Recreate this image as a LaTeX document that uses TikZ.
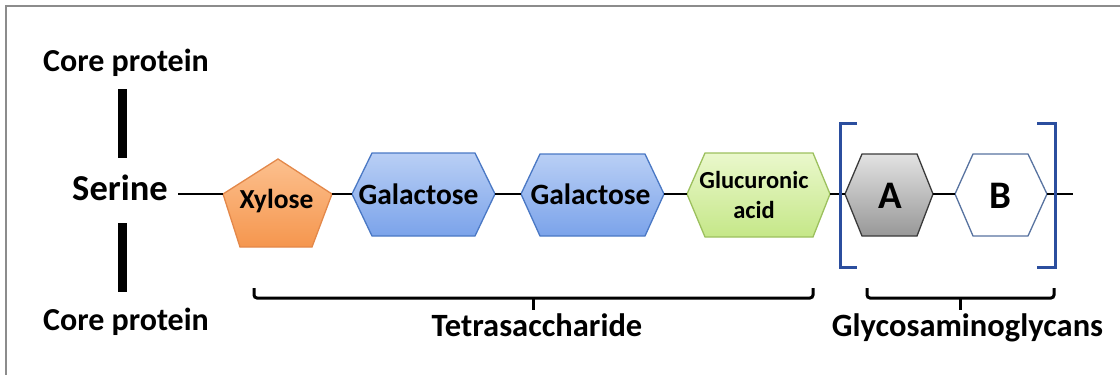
\documentclass[tikz,border=0pt]{standalone}
\usepackage{fontspec}
\setmainfont{Carlito}
\usepackage{tikz}
\usetikzlibrary{calc}

\definecolor{framegray}{HTML}{8C8C8C}
\definecolor{xylTop}{HTML}{FCC08E}
\definecolor{xylBot}{HTML}{F5964E}
\definecolor{xylEdge}{HTML}{E3884A}
\definecolor{galTop}{HTML}{B9CFF5}
\definecolor{galBot}{HTML}{7BA3EA}
\definecolor{galEdge}{HTML}{4A78C4}
\definecolor{glcTop}{HTML}{EAF8CC}
\definecolor{glcBot}{HTML}{C5E788}
\definecolor{glcEdge}{HTML}{9CC05E}
\definecolor{aTop}{HTML}{E2E2E2}
\definecolor{aBot}{HTML}{989898}
\definecolor{aEdge}{HTML}{3A3A3A}
\definecolor{bEdge}{HTML}{5873A0}
\definecolor{bracketblue}{HTML}{2B4E9E}

\tikzset{
  sugar/.style={line width=1.3pt, line join=miter},
  lbl/.style={inner sep=0pt, anchor=base},
  link/.style={black, line width=2.8pt},
  corebar/.style={black, line width=9pt},
  underbrace/.style={black, line width=3pt, rounded corners=3pt},
  gagbracket/.style={draw=bracketblue, line width=3pt},
}

\begin{document}
\begin{tikzpicture}[x=1pt,y=-1pt]
        \useasboundingbox (0,0) rectangle (1120,375);
        % Frame
        \draw[framegray,line width=2pt](6,375)--(6,6)--(1120,6);
        % Core protein and serine
        \node[lbl,font=\bfseries\fontsize{32}{36}\selectfont](coreTop) at (126,71){Core protein};
        \node[lbl,font=\bfseries\fontsize{36.5}{40}\selectfont](serine) at (120,200){Serine};
        \node[lbl,font=\bfseries\fontsize{32}{36}\selectfont](coreBot) at (126,330){Core protein};
        \draw[corebar](122,89)--(122,158);
        \draw[corebar](122,223)--(122,292);
        \coordinate (serineE) at (178,194);
        % Sugar units
        \draw[sugar,draw=xylEdge,top color=xylTop,bottom color=xylBot](223,194)coordinate(xylW)--(278,159)--(332,194)coordinate(xylE)--(312,247)--(240,247)--cycle;
        \draw[sugar,draw=galEdge,top color=galTop,bottom color=galBot](352,194)coordinate(gal1W)--(372,153)--(475,153)--(495,194)coordinate(gal1E)--(475,236)--(372,236)--cycle;
        \draw[sugar,draw=galEdge,top color=galTop,bottom color=galBot](521,194)coordinate(gal2W)--(540,154)--(645,154)--(664,194)coordinate(gal2E)--(645,236)--(540,236)--cycle;
        \draw[sugar,draw=glcEdge,top color=glcTop,bottom color=glcBot](687,194)coordinate(glcW)--(705,153)--(813,153)--(830,194)coordinate(glcE)--(813,237)--(705,237)--cycle;
        \draw[sugar,draw=aEdge,top color=aTop,bottom color=aBot](845,194)coordinate(aW)--(862,154)--(917,154)--(933,194)coordinate(aE)--(917,236)--(862,236)--cycle;
        \draw[sugar,draw=bEdge,fill=white](955,194)coordinate(bW)--(973,154)--(1028,154)--(1047,194)coordinate(bE)--(1028,236)--(973,236)--cycle;
        \coordinate (chainEnd) at (1073,194);
        \node[lbl,font=\bfseries\fontsize{27.5}{30}\selectfont](xyl) at (276.5,208){Xylose};
        \node[lbl,font=\bfseries\fontsize{29.5}{33}\selectfont](gal1) at (418.5,204){Galactose};
        \node[lbl,font=\bfseries\fontsize{29.5}{33}\selectfont](gal2) at (590.5,204){Galactose};
        \node[inner sep=0pt,align=center,font=\bfseries\fontsize{24.5}{30}\selectfont](glc) at (754,195){Glucuronic\\acid};
        \node[lbl,font=\bfseries\fontsize{39}{42}\selectfont](unitA) at (890,208){A};
        \node[lbl,font=\bfseries\fontsize{39}{42}\selectfont](unitB) at (1000,208){B};
        % Glycosidic links
        \draw[link](serineE)--(xylW);
        \draw[link](xylE)--(gal1W);
        \draw[link](gal1E)--(gal2W);
        \draw[link](gal2E)--(glcW);
        \draw[link](glcE)--(aW);
        \draw[link](aE)--(bW);
        \draw[link](bE)--(chainEnd);
        % Repeat brackets
        \draw[gagbracket](857,123)--(840,123)--(840,267)--(857,267);
        \draw[gagbracket](1037,123)--(1055,123)--(1055,267)--(1037,267);
        % Braces
        \draw[underbrace](254,288)--(254,298)--(533,298)--(813,298)--(813,288);
        \draw[underbrace](533,297)--(533,310);
        \draw[underbrace](867,288)--(867,298)--(960,298)--(1054,298)--(1054,288);
        \draw[underbrace](960,297)--(960,310);
        \node[lbl,font=\bfseries\fontsize{32.5}{36}\selectfont](tetra) at (537,336){Tetrasaccharide};
        \node[lbl,font=\bfseries\fontsize{32.5}{36}\selectfont](gag) at (967.5,336){Glycosaminoglycans};
\end{tikzpicture}
\end{document}
